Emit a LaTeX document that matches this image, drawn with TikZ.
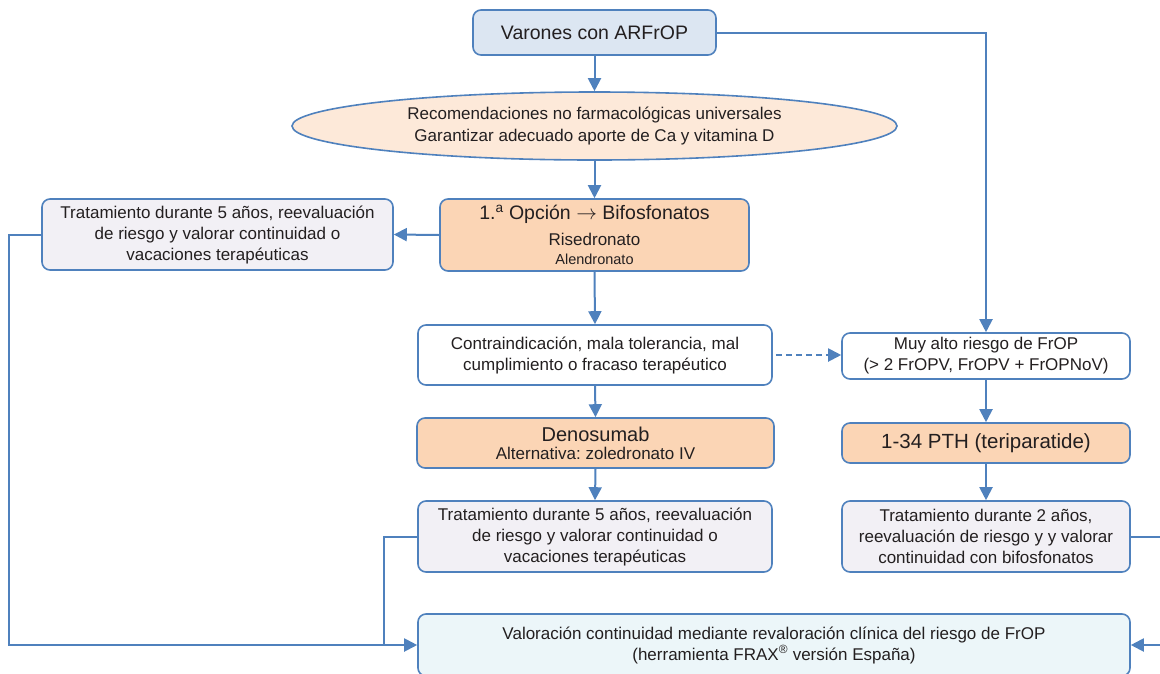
\documentclass[tikz,border=0pt]{standalone}
\usepackage{fontspec}
\setmainfont{Liberation Sans}
\usetikzlibrary{arrows.meta,shapes.geometric}
\definecolor{edgeblue}{RGB}{79,129,189}
\definecolor{textgray}{RGB}{35,31,32}
\definecolor{startfill}{RGB}{220,230,242}
\definecolor{ovalfill}{RGB}{253,233,217}
\definecolor{drugfill}{RGB}{251,213,181}
\definecolor{notefill}{RGB}{242,240,245}
\definecolor{endfill}{RGB}{236,246,249}
\frenchspacing
\begin{document}
\begin{tikzpicture}[x=1pt,y=-1pt,
  every node/.style={font=\fontsize{17}{21}\selectfont, text=textgray, align=center, inner sep=0pt},
  card/.style={draw=edgeblue, line width=1.6pt, rounded corners=8pt},
  link/.style={draw=edgeblue, line width=2pt, -{Triangle[length=13pt,width=13pt]}},
  plain/.style={draw=edgeblue, line width=2pt},
]
\useasboundingbox (0,0) rectangle (1160,673);
\clip (0,0) rectangle (1160,673);

% boxes
\node[card, fill=startfill, minimum width=243pt, minimum height=45pt,
      font=\fontsize{19.5}{23}\selectfont] (start) at (594.5,32.5) {Varones con ARFrOP};
\node[ellipse, draw=edgeblue, line width=1.6pt, fill=ovalfill,
      minimum width=605pt, minimum height=68pt] (recs) at (594.5,126)
  {Recomendaciones no farmacológicas universales\\Garantizar adecuado aporte de Ca y vitamina D};
\node[card, fill=drugfill, minimum width=309pt, minimum height=72pt] (bif) at (594.5,235)
  {{\fontsize{19.5}{23}\selectfont 1.\textsuperscript{a} Opción $\rightarrow$ Bifosfonatos}\\[5pt]
   {\fontsize{17}{20}\selectfont Risedronato}\\[-2pt]
   {\fontsize{14.5}{18}\selectfont Alendronato}};
\node[card, fill=notefill, minimum width=351pt, minimum height=71pt] (left) at (217.5,234.5)
  {Tratamiento durante 5 años, reevaluación\\de riesgo y valorar continuidad o\\vacaciones terapéuticas};
\node[card, fill=white, minimum width=354pt, minimum height=60pt] (contra) at (595,355)
  {Contraindicación, mala tolerancia, mal\\cumplimiento o fracaso terapéutico};
\node[card, fill=white, minimum width=288pt, minimum height=46pt] (muy) at (986,356)
  {Muy alto riesgo de FrOP\\(> 2 FrOPV, FrOPV + FrOPNoV)};
\node[card, fill=drugfill, minimum width=357pt, minimum height=50pt] (deno) at (595.5,443)
  {{\fontsize{20}{22}\selectfont Denosumab}\\[-3pt]Alternativa: zoledronato IV};
\node[card, fill=drugfill, minimum width=288pt, minimum height=40pt,
      font=\fontsize{20.5}{23}\selectfont] (pth) at (986,443) {1-34 PTH (teriparatide)};
\node[card, fill=notefill, minimum width=354pt, minimum height=71pt] (trat5) at (595,536.5)
  {Tratamiento durante 5 años, reevaluación\\de riesgo y valorar continuidad o\\vacaciones terapéuticas};
\node[card, fill=notefill, minimum width=288pt, minimum height=71pt] (trat2) at (986,536.5)
  {Tratamiento durante 2 años,\\reevaluación de riesgo y y valorar\\continuidad con bifosfonatos};
\node[card, fill=endfill, minimum width=712pt, minimum height=62pt] (final) at (774,645)
  {Valoración continuidad mediante revaloración clínica del riesgo de FrOP\\(herramienta FRAX\textsuperscript{®} versión España)};

% connectors
\draw[link] (start.south) -- (recs.north);
\draw[link] (recs.south) -- (bif.north);
\draw[link] (bif.west) -- (left.east);
\draw[link] (bif.south) -- (contra.north);
\draw[link] (contra.south) -- (deno.north);
\draw[link] (deno.south) -- (trat5.north);
\draw[link, dash pattern=on 6pt off 4pt] ([xshift=3pt]contra.east) -- (contra.east -| muy.west);
\draw[link] (start.east) -| (muy.north);
\draw[link] (muy.south) -- (pth.north);
\draw[link] (pth.south) -- (trat2.north);
\draw[link] (left.west) -- ++(-32,0) |- (final.west);
\coordinate (merge) at (384,645);
\draw[plain] (trat5.west) -| (merge);
\draw[link] (trat2.east) -- ++(32,0) |- (final.east);
\end{tikzpicture}
\end{document}
